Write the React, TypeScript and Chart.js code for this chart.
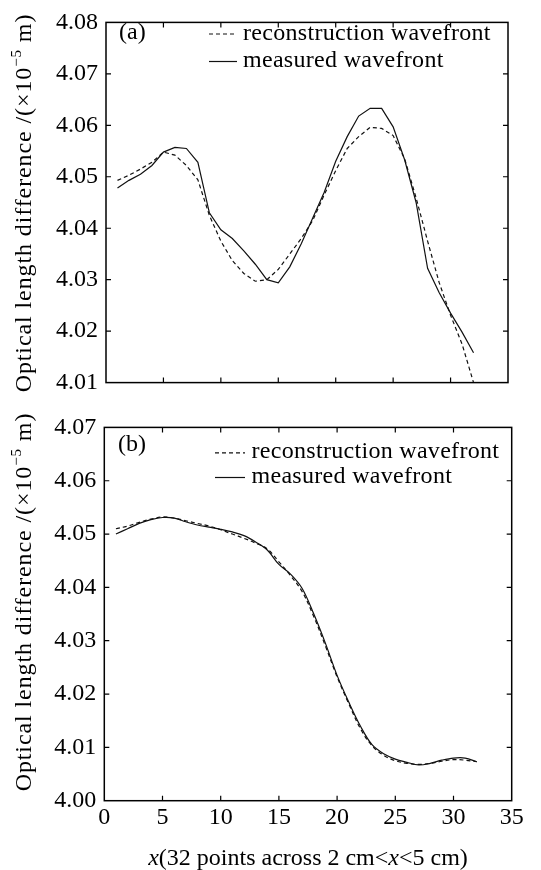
import React, { useEffect, useRef } from "react";
import { Chart, registerables } from "chart.js";

Chart.register(...registerables);

// ---------------- data ----------------
const xPoints = [
  1, 2, 3, 4, 5, 6, 7, 8, 9, 10, 11, 12, 13, 14, 15, 16,
  17, 18, 19, 20, 21, 22, 23, 24, 25, 26, 27, 28, 29, 30, 31, 32,
];

// panel (a)
const measuredA = [
  4.0478, 4.0493, 4.0505, 4.0522, 4.0548, 4.0557, 4.0555, 4.0528,
  4.043, 4.0397, 4.038, 4.0356, 4.033, 4.03, 4.0294, 4.0325,
  4.037, 4.042, 4.047, 4.053, 4.0578, 4.0618, 4.0633, 4.0633,
  4.0597, 4.0533, 4.045, 4.0322, 4.0275, 4.0235, 4.0198, 4.0158,
];
const reconA = [
  4.0493, 4.0503, 4.0515, 4.0528, 4.0548, 4.0542, 4.0522, 4.0494,
  4.0425, 4.0375, 4.0337, 4.0312, 4.0297, 4.03, 4.032, 4.035,
  4.038, 4.0415, 4.0465, 4.0512, 4.0555, 4.0578, 4.0596, 4.0594,
  4.058, 4.0535, 4.0459, 4.0375, 4.0295, 4.0231, 4.0175, 4.01,
];

// panel (b)
const measuredB = [
  4.05, 4.051, 4.052, 4.0527, 4.0531, 4.053, 4.0523, 4.0517,
  4.0513, 4.0509, 4.0504, 4.0497, 4.0485, 4.047, 4.0443, 4.0425,
  4.0398, 4.035, 4.0295, 4.0235, 4.0185, 4.014, 4.0105, 4.0088,
  4.0078, 4.0072, 4.0067, 4.007, 4.0076, 4.008, 4.008, 4.0073,
];
const reconB = [
  4.051, 4.0515, 4.0522, 4.0528, 4.0532, 4.053, 4.0525, 4.052,
  4.0515, 4.0508, 4.05, 4.0492, 4.0483, 4.0472, 4.0448, 4.0422,
  4.0392, 4.0345, 4.029, 4.0232, 4.0182, 4.0135, 4.0103, 4.0085,
  4.0075, 4.007, 4.0068, 4.007, 4.0074, 4.0077, 4.0076, 4.0073,
];

const yTicksA = [4.01, 4.02, 4.03, 4.04, 4.05, 4.06, 4.07, 4.08];
const yTicksB = [4.0, 4.01, 4.02, 4.03, 4.04, 4.05, 4.06, 4.07];
const xTicks = [0, 5, 10, 15, 20, 25, 30, 35];

const seriesLabels = ["reconstruction wavefront", "measured wavefront"];
const panelLabels = ["(a)", "(b)"];
const yTitleMain = "Optical length difference /(\u00D710";
const yTitleSup = "\u22125";
const yTitleEnd = " m)";
const xTitleParts = [
  { text: "x", italic: true },
  { text: "(32 points across 2 cm<", italic: false },
  { text: "x", italic: true },
  { text: "<5 cm)", italic: false },
];

// ---------------- styling / layout ----------------
const FONT = '"Liberation Serif", "Times New Roman", serif';
const FS = 24;
const W = 541;

type Panel = {
  measured: number[];
  recon: number[];
  yTicks: number[];
  label: string;
  top: number; // canvas top in page
  height: number; // canvas height
  area: { left: number; top: number; right: number; bottom: number }; // canvas coords
  showX: boolean;
  legend: { sampleX0: number; sampleX1: number; textX: number; base1: number; base2: number };
  labelPos: { x: number; base: number };
  yTitleX: number;
  yTitleCY: number;
};

const panels: Panel[] = [
  {
    measured: measuredA,
    recon: reconA,
    yTicks: yTicksA,
    label: panelLabels[0],
    top: 0,
    height: 405,
    area: { left: 106, top: 13, right: 508, bottom: 387 },
    showX: false,
    legend: { sampleX0: 209, sampleX1: 237, textX: 243, base1: 39.5, base2: 67 },
    labelPos: { x: 119, base: 39 },
    yTitleX: 31,
    yTitleCY: 203,
  },
  {
    measured: measuredB,
    recon: reconB,
    yTicks: yTicksB,
    label: panelLabels[1],
    top: 405,
    height: 465,
    area: { left: 104.3, top: 16.7, right: 511.7, bottom: 395.7 },
    showX: true,
    legend: { sampleX0: 215, sampleX1: 245, textX: 251.5, base1: 53.3, base2: 78 },
    labelPos: { x: 118, base: 45.5 },
    yTitleX: 31,
    yTitleCY: 197,
  },
];

function makeFramePlugin() {
  return {
    id: "frame",
    afterDraw(chart: any) {
      const { ctx, chartArea: a, scales } = chart;
      ctx.save();
      ctx.strokeStyle = "#000";
      ctx.lineWidth = 1.5;
      ctx.strokeRect(a.left, a.top, a.right - a.left, a.bottom - a.top);
      const L = 5;
      ctx.lineWidth = 1.2;
      ctx.beginPath();
      scales.x.ticks.forEach((t: any) => {
        const px = scales.x.getPixelForValue(t.value);
        if (px > a.left + 1 && px < a.right - 1) {
          ctx.moveTo(px, a.bottom);
          ctx.lineTo(px, a.bottom - L);
          ctx.moveTo(px, a.top);
          ctx.lineTo(px, a.top + L);
        }
      });
      scales.y.ticks.forEach((t: any) => {
        const py = scales.y.getPixelForValue(t.value);
        if (py > a.top + 1 && py < a.bottom - 1) {
          ctx.moveTo(a.left, py);
          ctx.lineTo(a.left + L, py);
          ctx.moveTo(a.right, py);
          ctx.lineTo(a.right - L, py);
        }
      });
      ctx.stroke();
      ctx.restore();
    },
  };
}

function setSpacing(ctx: any, v: string) {
  if ("letterSpacing" in ctx) ctx.letterSpacing = v;
}

function makeDecorPlugin(p: Panel) {
  return {
    id: "decor",
    afterDraw(chart: any) {
      const { ctx, chartArea: a } = chart;
      ctx.save();
      ctx.fillStyle = "#000";
      ctx.textBaseline = "alphabetic";
      ctx.textAlign = "left";

      // panel label
      ctx.font = `${FS}px ${FONT}`;
      ctx.fillText(p.label, p.labelPos.x, p.labelPos.base);

      // legend
      const ds = chart.data.datasets;
      [p.legend.base1, p.legend.base2].forEach((base, i) => {
        const d = ds[i];
        const ly = base - 5.5;
        ctx.save();
        ctx.strokeStyle = d.borderColor;
        ctx.lineWidth = d.borderWidth;
        ctx.setLineDash(d.borderDash || []);
        ctx.beginPath();
        ctx.moveTo(p.legend.sampleX0, ly);
        ctx.lineTo(p.legend.sampleX1, ly);
        ctx.stroke();
        ctx.restore();
        ctx.save();
        ctx.font = `${FS}px ${FONT}`;
        setSpacing(ctx, "0.3px");
        ctx.fillText(d.label, p.legend.textX, base);
        ctx.restore();
      });

      // y title (rotated)
      ctx.save();
      ctx.translate(p.yTitleX, p.yTitleCY);
      ctx.rotate(-Math.PI / 2);
      setSpacing(ctx, "0.9px");
      ctx.font = `${FS}px ${FONT}`;
      const w1 = ctx.measureText(yTitleMain).width;
      const w3 = ctx.measureText(yTitleEnd).width;
      ctx.font = `15px ${FONT}`;
      const w2 = ctx.measureText(yTitleSup).width;
      const total = w1 + w2 + w3;
      let x0 = -total / 2;
      ctx.font = `${FS}px ${FONT}`;
      ctx.fillText(yTitleMain, x0, 0);
      x0 += w1;
      ctx.font = `15px ${FONT}`;
      ctx.fillText(yTitleSup, x0, -10);
      x0 += w2;
      ctx.font = `${FS}px ${FONT}`;
      ctx.fillText(yTitleEnd, x0, 0);
      ctx.restore();

      // x title
      if (p.showX) {
        let tw = 0;
        xTitleParts.forEach((part) => {
          ctx.font = `${part.italic ? "italic " : ""}${FS}px ${FONT}`;
          tw += ctx.measureText(part.text).width;
        });
        let xx = (a.left + a.right) / 2 - tw / 2;
        const base = p.height - 5;
        xTitleParts.forEach((part) => {
          ctx.font = `${part.italic ? "italic " : ""}${FS}px ${FONT}`;
          ctx.fillText(part.text, xx, base);
          xx += ctx.measureText(part.text).width;
        });
      }
      ctx.restore();
    },
  };
}

function PanelChart({ p }: { p: Panel }) {
  const ref = useRef<HTMLCanvasElement | null>(null);
  useEffect(() => {
    if (!ref.current) return;
    const chart = new Chart(ref.current, {
      type: "line",
      data: {
        datasets: [
          {
            label: seriesLabels[0],
            data: xPoints.map((x, i) => ({ x, y: p.recon[i] })),
            borderColor: "#111",
            borderWidth: 1.2,
            borderDash: [4, 3],
            pointRadius: 0,
            tension: p.showX ? 0.35 : 0,
            fill: false,
          },
          {
            label: seriesLabels[1],
            data: xPoints.map((x, i) => ({ x, y: p.measured[i] })),
            borderColor: "#111",
            borderWidth: 1.2,
            pointRadius: 0,
            tension: p.showX ? 0.35 : 0,
            fill: false,
          },
        ],
      },
      options: {
        responsive: false,
        animation: false,
        devicePixelRatio: 1,
        layout: {
          padding: {
            left: 0,
            top: p.area.top,
            right: W - p.area.right,
            bottom: 0,
          },
        },
        plugins: {
          legend: { display: false },
          tooltip: { enabled: false },
          title: { display: false },
        },
        scales: {
          x: {
            type: "linear",
            min: 0,
            max: 35,
            grid: { display: false, drawTicks: false },
            border: { display: false },
            afterBuildTicks: (s: any) => {
              s.ticks = xTicks.map((v) => ({ value: v }));
            },
            afterFit: (s: any) => {
              s.height = p.height - p.area.bottom;
            },
            ticks: {
              display: p.showX,
              autoSkip: false,
              maxRotation: 0,
              padding: 3,
              color: "#000",
              font: { family: FONT, size: FS },
              callback: (v: any) => String(v),
            },
          },
          y: {
            type: "linear",
            min: p.yTicks[0],
            max: p.yTicks[p.yTicks.length - 1],
            grid: { display: false, drawTicks: false },
            border: { display: false },
            afterBuildTicks: (s: any) => {
              s.ticks = p.yTicks.map((v) => ({ value: v }));
            },
            afterFit: (s: any) => {
              s.width = p.area.left;
            },
            ticks: {
              autoSkip: false,
              padding: 8,
              color: "#000",
              font: { family: FONT, size: FS },
              callback: (v: any) => Number(v).toFixed(2),
            },
          },
        },
      } as any,
      plugins: [makeFramePlugin(), makeDecorPlugin(p)],
    });
    return () => chart.destroy();
  }, [p]);
  return (
    <canvas
      ref={ref}
      width={W}
      height={p.height}
      style={{ position: "absolute", left: 0, top: p.top, width: W, height: p.height, display: "block" }}
    />
  );
}

export default function App() {
  return (
    <div style={{ position: "absolute", left: 0, top: 0, width: W, height: 870, background: "#fff" }}>
      {panels.map((p, i) => (
        <PanelChart key={i} p={p} />
      ))}
    </div>
  );
}
